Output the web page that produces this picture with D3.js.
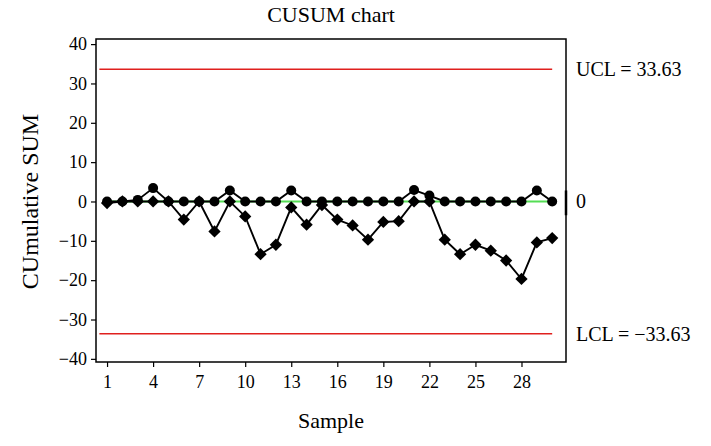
<!DOCTYPE html>
<html>
<head>
<meta charset="utf-8">
<script src="https://cdn.jsdelivr.net/npm/d3@7"></script>
<style>
  body { margin: 0; background: white; }
  text { font-family: "Liberation Serif", "DejaVu Serif", serif; fill: black; }
</style>
</head>
<body>
<div id="my_dataviz"></div>
<script>
// data
var samples = d3.range(1, 31);
var upperCusum = [0, 0, 0.4, 3.4, 0, 0, 0, 0, 2.8, 0, 0, 0, 2.8, 0, 0,
  0, 0, 0, 0, 0, 2.9, 1.5, 0, 0, 0, 0, 0, 0, 2.8, 0];
var lowerCusum = [-0.4, 0, 0, 0, 0, -4.6, 0, -7.6, 0, -3.8, -13.4, -11.0, -1.5, -5.9, -0.9,
  -4.6, -6.1, -9.7, -5.2, -5.0, 0, 0, -9.7, -13.4, -11.0, -12.5, -15.0, -19.7, -10.4, -9.3];
var xTicks = [1, 4, 7, 10, 13, 16, 19, 22, 25, 28];
var yTicks = [-40, -30, -20, -10, 0, 10, 20, 30, 40];
var ucl = 33.63, lcl = -33.63, center = 0;

var width = 711, height = 446;
var margin = { top: 39, right: 145, bottom: 84, left: 96 };

var svg = d3
  .select("#my_dataviz")
  .append("svg")
  .attr("width", width)
  .attr("height", height);

var x = d3.scaleLinear().domain([0.28, 30.9]).range([margin.left, width - margin.right]);
var y = d3.scaleLinear().domain([-40.8, 41.3]).range([height - margin.bottom, margin.top]);

// title
svg.append("text")
  .attr("x", (x.range()[0] + x.range()[1]) / 2)
  .attr("y", 22)
  .attr("text-anchor", "middle")
  .style("font-size", "22px")
  .text("CUSUM chart");

// axes
var yAxis = svg.append("g")
  .attr("transform", "translate(" + margin.left + ",0)")
  .call(d3.axisLeft(y).tickValues(yTicks).tickSize(5).tickPadding(4));
yAxis.select(".domain").remove();

var xAxis = svg.append("g")
  .attr("transform", "translate(0," + (height - margin.bottom) + ")")
  .call(d3.axisBottom(x).tickValues(xTicks).tickSize(5).tickPadding(8));
xAxis.select(".domain").remove();

svg.selectAll(".tick line").attr("stroke", "black").attr("stroke-width", 1.2);
svg.selectAll(".tick text")
  .style("font-size", "18px")
  .style("font-family", "'Liberation Serif', serif");

// axis titles
svg.append("text")
  .attr("x", (x.range()[0] + x.range()[1]) / 2)
  .attr("y", 428)
  .attr("text-anchor", "middle")
  .style("font-size", "22px")
  .text("Sample");

svg.append("text")
  .attr("transform", "translate(38," + y(0) + ") rotate(-90)")
  .attr("text-anchor", "middle")
  .style("font-size", "24px")
  .text("CUmulative SUM");

// center line (green) and control limits (red)
svg.append("line")
  .attr("x1", x(1)).attr("x2", x(30))
  .attr("y1", y(center)).attr("y2", y(center))
  .attr("stroke", "#55dd55").attr("stroke-width", 2);

[ucl, lcl].forEach(function (v) {
  svg.append("line")
    .attr("x1", x(0.5)).attr("x2", x(30))
    .attr("y1", y(v)).attr("y2", y(v))
    .attr("stroke", "#e0201e").attr("stroke-width", 1.5);
});

// series lines
var line = d3.line()
  .x(function (d, i) { return x(samples[i]); })
  .y(function (d) { return y(d); });

svg.append("path").datum(upperCusum)
  .attr("d", line).attr("fill", "none")
  .attr("stroke", "black").attr("stroke-width", 1.9);

svg.append("path").datum(lowerCusum)
  .attr("d", line).attr("fill", "none")
  .attr("stroke", "black").attr("stroke-width", 1.9);

// markers
svg.selectAll(".upperDot")
  .data(upperCusum)
  .enter()
  .append("circle")
  .attr("class", "upperDot")
  .attr("cx", function (d, i) { return x(samples[i]); })
  .attr("cy", function (d) { return y(d); })
  .attr("r", 5)
  .attr("fill", "black");

var diamond = d3.symbol().type(d3.symbolDiamond2).size(96);
svg.selectAll(".lowerDot")
  .data(lowerCusum)
  .enter()
  .append("path")
  .attr("class", "lowerDot")
  .attr("d", diamond)
  .attr("transform", function (d, i) {
    return "translate(" + x(samples[i]) + "," + y(d) + ")";
  })
  .attr("fill", "black");

// plot frame
svg.append("rect")
  .attr("x", x.range()[0]).attr("y", y.range()[1])
  .attr("width", x.range()[1] - x.range()[0])
  .attr("height", y.range()[0] - y.range()[1])
  .attr("fill", "none").attr("stroke", "black").attr("stroke-width", 1.5);

// small mark on right border at center
svg.append("line")
  .attr("x1", x.range()[1]).attr("x2", x.range()[1])
  .attr("y1", y(2.8)).attr("y2", y(-3.5))
  .attr("stroke", "black").attr("stroke-width", 2.5);

// limit labels on the right
var labels = [
  { v: ucl, t: "UCL = 33.63" },
  { v: center, t: "0" },
  { v: lcl, t: "LCL = \u221233.63" }
];
svg.selectAll(".limitLabel")
  .data(labels)
  .enter()
  .append("text")
  .attr("class", "limitLabel")
  .attr("x", x.range()[1] + 10)
  .attr("y", function (d) { return y(d.v) + 7; })
  .style("font-size", "20px")
  .text(function (d) { return d.t; });
</script>
</body>
</html>
